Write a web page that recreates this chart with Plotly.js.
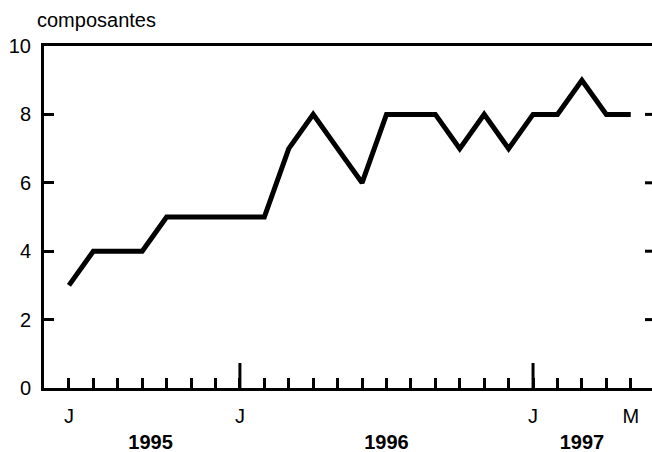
<!DOCTYPE html>
<html>
<head>
<meta charset="utf-8">
<script src="https://cdn.plot.ly/plotly-3.0.1.min.js"></script>
<style>html,body{margin:0;padding:0;overflow:hidden;background:#fff}</style>
</head>
<body>
<div id="chart" style="width:652px;height:452px"></div>
<div id="note" style="position:absolute;left:60px;top:60px;font:10px monospace;color:rgba(0,0,0,0);white-space:pre;pointer-events:none"></div>
<script>
// Monthly observations, June 1995 to May 1997
var months = ["1995-06","1995-07","1995-08","1995-09","1995-10","1995-11","1995-12",
  "1996-01","1996-02","1996-03","1996-04","1996-05","1996-06","1996-07","1996-08","1996-09","1996-10","1996-11","1996-12",
  "1997-01","1997-02","1997-03","1997-04","1997-05"];
var values = [3,4,4,4,5,5,5, 5,5,7,8,7,6,8,8,8,7,8,7, 8,8,9,8,8];
var monthLabels = ["J","","","","","","", "J","","","","","","","","","","","", "J","","","","M"];
var yearLabels = ["1995","1996","1997"];
var yearMonths = ["1995-09","1996-07","1997-03"]; // month under which each year label sits
var yearPad = ["\u00a0\u00a0\u00a0", "", ""];
var yTicks = [0,2,4,6,8,10];
var innerTicks = [2,4,6,8];

var idx = months.map(function(m,i){return i;});
var janIdx = months.map(function(m,i){return m.slice(5)==="01"?i:null;}).filter(function(v){return v!==null;});
var font = "Liberation Sans, Arial, sans-serif";

var tickText = months.map(function(m,i){
  var y = yearMonths.indexOf(m);
  var top = monthLabels[i] || "\u00a0";
  return y >= 0 ? top + "<br>" + yearPad[y] + "<b>" + yearLabels[y] + "</b>" : monthLabels[i];
});

var trace = {x: idx, y: values, type: "scatter", mode: "lines",
  line: {color: "#000", width: 5}};

var plotH = 452 - 46 - 64, plotW = 652 - 44;
var blk = {color: "#000", width: 3};
var shapes = [];
janIdx.forEach(function(i){
  shapes.push({type: "line", xref: "x", yref: "paper", x0: i, x1: i, y0: 0, y1: 25/plotH, line: blk});
});
innerTicks.forEach(function(v){
  shapes.push({type: "line", xref: "paper", yref: "y", x0: 1 - 7/plotW, x1: 1, y0: v, y1: v, line: blk});
});

var xr = [-1.02, 23.87];
var layout = {
  width: 652, height: 452,
  margin: {l: 44, r: 0, t: 46, b: 64},
  paper_bgcolor: "#fff", plot_bgcolor: "#fff",
  font: {family: font, size: 20, color: "#000"},
  title: {text: "composantes", x: 37/652, xanchor: "left", xref: "container", yref: "container",
    y: 1 - 20/452, yanchor: "middle", font: {family: font, size: 20, color: "#000"}},
  xaxis: {range: xr, tickmode: "array", tickvals: idx, ticktext: tickText,
    ticks: "inside", ticklen: 10, tickwidth: 3, tickcolor: "#000",
    showline: true, linewidth: 3, linecolor: "#000", mirror: true,
    showgrid: false, zeroline: false, ticklabelstandoff: 8, fixedrange: true},
  yaxis: {range: [0, 10], tickmode: "array", tickvals: yTicks, ticktext: yTicks.map(String),
    ticks: "inside", ticklen: 10, tickwidth: 3, tickcolor: "#000",
    showline: true, linewidth: 3, linecolor: "#000",
    showgrid: false, zeroline: false, ticklabelstandoff: 6, fixedrange: true},
  shapes: shapes
};
Plotly.newPlot("chart", [trace], layout, {displayModeBar: false, staticPlot: true}).then(function(){
  document.getElementById("note").textContent = " ";
});
</script>
</body>
</html>
